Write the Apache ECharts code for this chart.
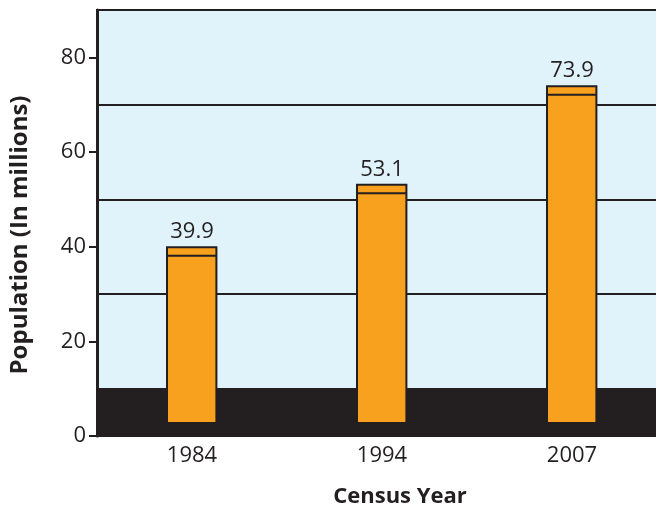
<!DOCTYPE html>
<html>
<head>
<meta charset="utf-8">
<script src="https://cdn.jsdelivr.net/npm/echarts@6/dist/echarts.min.js"></script>
<style>
html,body{margin:0;padding:0;background:#fff;}
#chart{width:656px;height:507px;}
</style>
</head>
<body>
<div id="chart"></div>
<script>
const categories = ['1984', '1994', '2007'];
const population = [39.9, 53.1, 73.9];
const yTickValues = [0, 20, 40, 60, 80];
const ruleLines = [10, 30, 50, 70];
const darkBand = [0, 10];

const INK = '#231f20';
const FONT = '"Open Sans", "Noto Sans", sans-serif';

const chart = echarts.init(document.getElementById('chart'), null, {renderer: 'canvas'});

function renderBar(params, api) {
  const idx = api.value(0);
  const v = api.value(1);
  const top = api.coord([idx, v]);
  const base = api.coord([idx, 0]);
  const bw = api.size([1, 0])[0] * 0.26;
  const left = Math.round(top[0] - bw / 2);
  const y0 = base[1] - 13;
  return {
    type: 'group',
    children: [
      {type: 'rect', shape: {x: left, y: top[1], width: bw, height: y0 - top[1]},
       style: {fill: '#f7a11e', stroke: INK, lineWidth: 2}},
      {type: 'line', shape: {x1: left, y1: top[1] + 8.5, x2: left + bw, y2: top[1] + 8.5},
       style: {stroke: INK, lineWidth: 2}},
      {type: 'text', x: top[0], y: top[1] - 4,
       style: {text: v.toFixed(1), fill: INK, font: '22px ' + FONT, textAlign: 'center', textVerticalAlign: 'bottom'}}
    ]
  };
}

chart.setOption({
  animation: false,
  backgroundColor: '#ffffff',
  grid: {
    left: 97, top: 10, width: 570, height: 426,
    outerBoundsMode: 'none',
    show: true, backgroundColor: '#e0f2fa', borderColor: INK, borderWidth: 2
  },
  xAxis: {
    type: 'category',
    data: categories,
    name: 'Census Year',
    nameLocation: 'middle',
    nameGap: 50,
    nameTextStyle: {fontFamily: FONT, fontWeight: 'bold', fontSize: 22, color: INK, padding: [0, 0, 0, 36]},
    axisLine: {lineStyle: {color: INK, width: 2}},
    axisTick: {length: 10, lineStyle: {color: INK, width: 2}, interval: function (i) { return i !== 0; }},
    axisLabel: {fontFamily: FONT, fontSize: 22, color: INK, margin: 9},
    splitLine: {show: false}
  },
  yAxis: {
    type: 'value',
    min: 0, max: 90,
    name: 'Population (In millions)',
    nameLocation: 'middle',
    nameGap: 65,
    nameTextStyle: {fontFamily: FONT, fontWeight: 'bold', fontSize: 24, color: INK, padding: [0, 24, 0, 0]},
    axisLine: {show: true, lineStyle: {color: INK, width: 3}},
    axisTick: {show: true, length: 8, lineStyle: {color: INK, width: 2}, customValues: yTickValues},
    axisLabel: {fontFamily: FONT, fontSize: 22, color: INK, margin: 11, customValues: yTickValues},
    splitLine: {show: false}
  },
  series: [
    {
      type: 'custom',
      z: 3,
      renderItem: renderBar,
      data: population.map((v, i) => [i, v]),
      markArea: {
        silent: true,
        z: 1,
        itemStyle: {color: INK, opacity: 1},
        data: [[{yAxis: darkBand[0]}, {yAxis: darkBand[1]}]]
      },
      markLine: {
        silent: true,
        z: 2,
        symbol: 'none',
        label: {show: false},
        lineStyle: {color: INK, width: 2, type: 'solid'},
        data: ruleLines.map(v => ({yAxis: v}))
      }
    }
  ]
});
</script>
</body>
</html>
